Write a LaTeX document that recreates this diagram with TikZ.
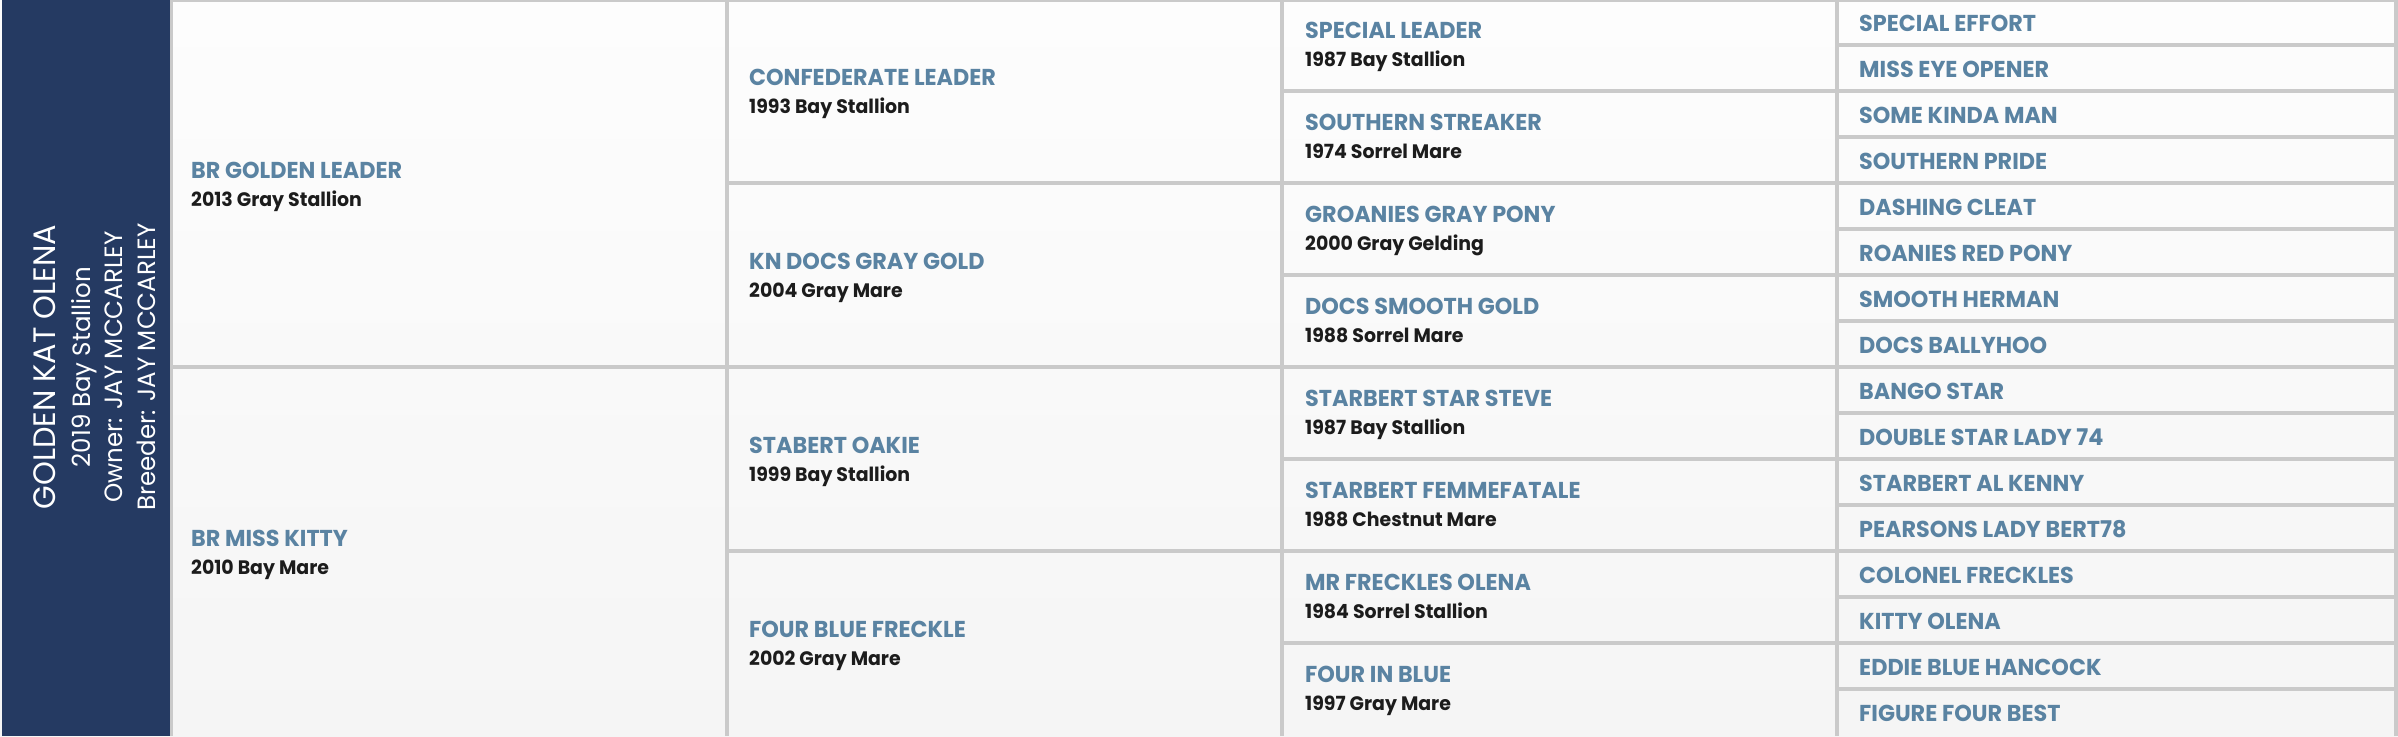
\documentclass[tikz,border=0pt]{standalone}
\usepackage{fontspec}
\newfontfamily\namefont{Poppins}[FakeStretch=0.97]
\newfontfamily\leftfont{Poppins}[FakeStretch=0.98]
\definecolor{navy}{HTML}{253A62}
\definecolor{nameblue}{HTML}{5A83A2}
\definecolor{gridgray}{HTML}{CACACA}
\definecolor{ink}{HTML}{1C1C1C}
\definecolor{bgtop}{HTML}{FDFDFD}
\definecolor{bgbot}{HTML}{F5F5F5}
\tikzset{
  hname/.style={anchor=base west, inner sep=0pt, text=nameblue, font=\namefont\bfseries\fontsize{23}{23}\selectfont},
  hinfo/.style={anchor=base west, inner sep=0pt, text=ink, font=\namefont\bfseries\fontsize{19.5}{20}\selectfont},
  gridline/.style={draw=gridgray, line width=4pt},
  lefttitle/.style={rotate=90, anchor=base, inner sep=0pt, text=white, font=\leftfont\fontsize{31}{31}\selectfont},
  leftsub/.style={rotate=90, anchor=base, inner sep=0pt, text=white, font=\leftfont\fontsize{25}{25}\selectfont},
}
\begin{document}
\begin{tikzpicture}[x=1pt,y=-1pt]
\useasboundingbox (0,0) rectangle (2398,736);
\shade[top color=bgtop, bottom color=bgbot] (0,0) rectangle (2398,736);
% left banner
\fill[navy] (1.5,0) rectangle (170,736);
\node[lefttitle] (title) at (55,367) {GOLDEN KAT OLENA};
\node[leftsub] (born) at (90,367) {2019 Bay Stallion};
\node[leftsub] (owner) at (122,367) {Owner: JAY MCCARLEY};
\node[leftsub] (breeder) at (155,367) {Breeder: JAY MCCARLEY};
% grid lines
\draw[gridline, line width=3.5pt] (171.7,0) -- (171.7,736);
\draw[gridline] (727,0) -- (727,736);
\draw[gridline] (1281.5,0) -- (1281.5,736);
\draw[gridline] (1836.5,0) -- (1836.5,736);
\draw[gridline] (2396,0) -- (2396,736);
\draw[gridline, line width=2pt] (172,0.5) -- (2398,0.5);
\draw[gridline] (173,367) -- (727,367);
\foreach \k in {1,2,3} \draw[gridline] (727,{184*\k-1}) -- (1281.5,{184*\k-1});
\foreach \k in {1,...,7} \draw[gridline] (1281.5,{92*\k-1}) -- (1836.5,{92*\k-1});
\foreach \k in {1,...,15} \draw[gridline] (1836.5,{46*\k-1}) -- (2396,{46*\k-1});
% generation 1
\foreach \n/\d [count=\i] in {BR GOLDEN LEADER/2013 Gray Stallion, BR MISS KITTY/2010 Bay Mare} {
  \node[hname] (ga\i) at (191,{368*\i-184-6}) {\n};
  \node[hinfo] (gai\i) at (191,{368*\i-184+22}) {\d};
}
% generation 2
\foreach \n/\d [count=\i] in {CONFEDERATE LEADER/1993 Bay Stallion, KN DOCS GRAY GOLD/2004 Gray Mare, STABERT OAKIE/1999 Bay Stallion, FOUR BLUE FRECKLE/2002 Gray Mare} {
  \node[hname] (gb\i) at (749,{184*\i-92-7}) {\n};
  \node[hinfo] (gbi\i) at (749,{184*\i-92+21}) {\d};
}
% generation 3
\foreach \n/\d [count=\i] in {SPECIAL LEADER/1987 Bay Stallion, SOUTHERN STREAKER/1974 Sorrel Mare, GROANIES GRAY PONY/2000 Gray Gelding, DOCS SMOOTH GOLD/1988 Sorrel Mare, STARBERT STAR STEVE/1987 Bay Stallion, STARBERT FEMMEFATALE/1988 Chestnut Mare, MR FRECKLES OLENA/1984 Sorrel Stallion, FOUR IN BLUE/1997 Gray Mare} {
  \node[hname] (gc\i) at (1305,{92*\i-46-7.5}) {\n};
  \node[hinfo] (gci\i) at (1305,{92*\i-46+20.5}) {\d};
}
% generation 4
\foreach \n [count=\i] in {SPECIAL EFFORT, MISS EYE OPENER, SOME KINDA MAN, SOUTHERN PRIDE, DASHING CLEAT, ROANIES RED PONY, SMOOTH HERMAN, DOCS BALLYHOO, BANGO STAR, DOUBLE STAR LADY 74, STARBERT AL KENNY, PEARSONS LADY BERT78, COLONEL FRECKLES, KITTY OLENA, EDDIE BLUE HANCOCK, FIGURE FOUR BEST} {
  \node[hname] (gd\i) at (1859,{46*\i-23+8}) {\n};
}
\end{tikzpicture}
\end{document}
